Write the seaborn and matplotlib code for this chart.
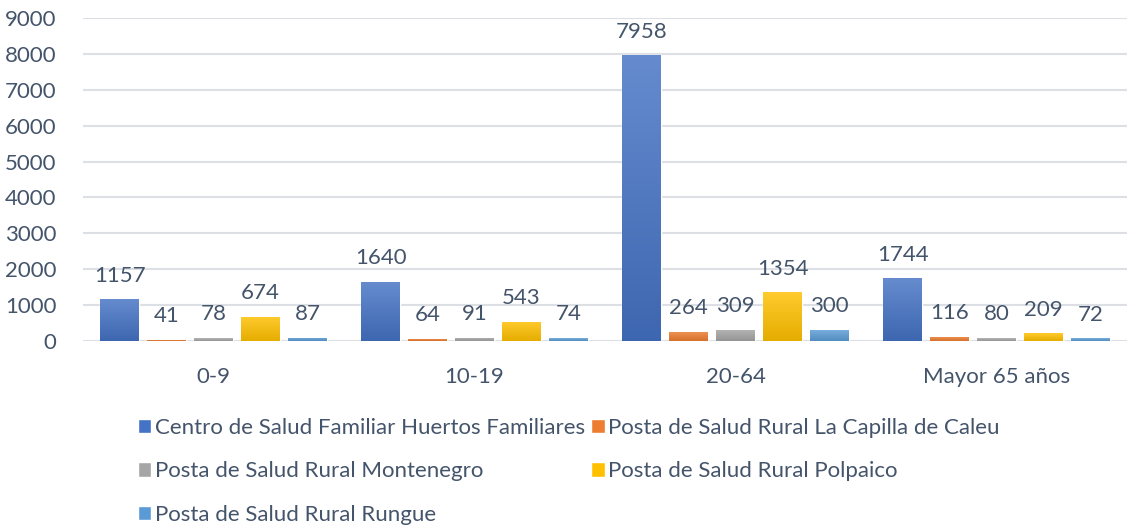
import matplotlib
matplotlib.use("Agg")
import matplotlib.pyplot as plt
import matplotlib.colors as mcolors
import numpy as np
import pandas as pd
import seaborn as sns

categories = ["0-9", "10-19", "20-64", "Mayor 65 años"]
series = [
    "Centro de Salud Familiar Huertos Familiares",
    "Posta de Salud Rural La Capilla de Caleu",
    "Posta de Salud Rural Montenegro",
    "Posta de Salud Rural Polpaico",
    "Posta de Salud Rural Rungue",
]
huertos = [1157, 1640, 7958, 1744]
caleu = [41, 64, 264, 116]
montenegro = [78, 91, 309, 80]
polpaico = [674, 543, 1354, 209]
rungue = [87, 74, 300, 72]
yticks = list(range(0, 9001, 1000))

colors = ["#4472C4", "#ED7D31", "#A5A5A5", "#FFC000", "#5B9BD5"]
text_color = "#44546A"
grid_color = "#DCE0E5"

# long format for seaborn
rows = []
for name, vals in zip(series, [huertos, caleu, montenegro, polpaico, rungue]):
    for cat, v in zip(categories, vals):
        rows.append({"grupo": cat, "centro": name, "valor": v})
df = pd.DataFrame(rows)

sns.set_theme(style="white")
plt.rcParams["font.family"] = ["Lato", "DejaVu Sans"]

fig = plt.figure(figsize=(11.33, 5.27), dpi=100)
ax = fig.add_axes([83 / 1133, 1 - 341 / 527, (1127 - 83) / 1133, (341 - 18) / 527])

sns.barplot(data=df, x="grupo", y="valor", hue="centro", order=categories,
            hue_order=series, palette=colors, width=0.9, gap=0.175,
            saturation=1, ax=ax, legend=True)

for cont in ax.containers:
    ax.bar_label(cont, padding=10, fontsize=16, color=text_color)


def shade(c, amount):
    # amount > 0 mixes with white, < 0 mixes with black
    rgb = np.array(mcolors.to_rgb(c))
    if amount > 0:
        return tuple(rgb + (1 - rgb) * amount)
    return tuple(rgb * (1 + amount))


# Excel-like vertical gradient on each bar
grad = np.linspace(0, 1, 256).reshape(-1, 1)
for patch in list(ax.patches):
    fc = patch.get_facecolor()
    cmap = mcolors.LinearSegmentedColormap.from_list(
        "g", [shade(fc, -0.1), shade(fc, 0.18)])
    x0, y0 = patch.get_x(), patch.get_y()
    w, h = patch.get_width(), patch.get_height()
    im = ax.imshow(grad, extent=[x0, x0 + w, y0, y0 + h], origin="lower",
                   aspect="auto", cmap=cmap, zorder=patch.get_zorder())
    im.set_clip_path(patch)

ax.set_ylim(0, 9000)
ax.set_yticks(yticks)
ax.set_xlim(-0.5, len(categories) - 0.5)
ax.set_aspect("auto")
ax.yaxis.grid(True, color=grid_color, linewidth=1.5)
ax.set_axisbelow(True)
for s in ["left", "right", "top", "bottom"]:
    ax.spines[s].set_visible(False)
ax.tick_params(axis="y", length=0, pad=19, labelsize=16, labelcolor=text_color)
ax.tick_params(axis="x", length=0, pad=19, labelsize=16, labelcolor=text_color)
ax.set_xlabel("")
ax.set_ylabel("")

handles, labels = ax.get_legend_handles_labels()
ax.get_legend().remove()
# row-wise order like the original (matplotlib fills columns first)
order = [0, 2, 4, 1, 3]
fig.legend([handles[i] for i in order], [labels[i] for i in order],
           loc="upper left", bbox_to_anchor=(118 / 1133, 1 - 398 / 527),
           ncol=2, frameon=False, fontsize=16, labelcolor=text_color,
           handlelength=0.6, handleheight=0.6, handletextpad=0.15,
           columnspacing=0.3, labelspacing=1.05)

fig.savefig("out.png", dpi=100)
